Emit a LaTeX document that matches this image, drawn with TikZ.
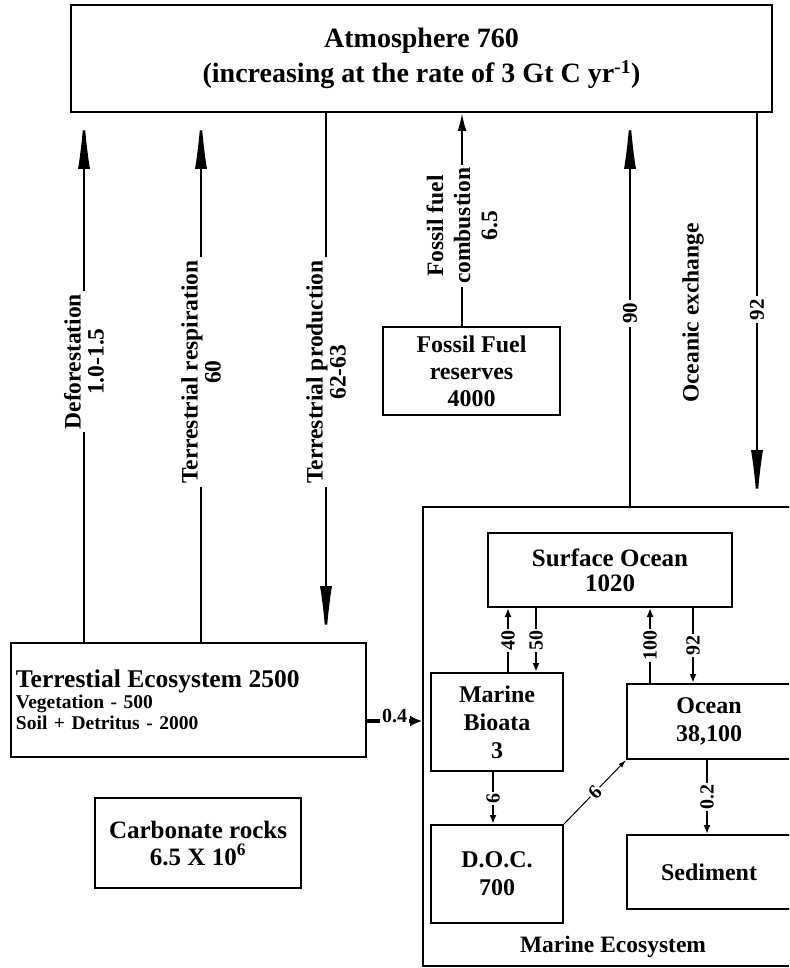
\documentclass[tikz,border=0pt]{standalone}
\usepackage{fontspec}
\setmainfont{Liberation Serif}
\usepackage{tikz}
\usetikzlibrary{arrows.meta}
\usetikzlibrary{positioning}

\newcommand{\titlefont}{\fontsize{28}{35}\selectfont\bfseries}
\newcommand{\boxfont}{\fontsize{24}{27}\selectfont\bfseries}
\newcommand{\flowfont}{\fontsize{23.5}{23}\selectfont\bfseries}
\newcommand{\minfont}{\fontsize{20}{20}\selectfont\bfseries}

\tikzset{
	pool/.style={draw, line width=2pt, align=center, inner sep=0pt, font=\boxfont},
	flowlab/.style={rotate=90, fill=white, align=center, inner sep=3pt, font=\flowfont},
	minlab/.style={rotate=90, fill=white, inner sep=1.5pt, font=\minfont},
	bigflow/.style={line width=2.5pt, -{Latex[length=56pt,width=12pt]}},
	fossflow/.style={line width=2pt, -{Latex[length=18pt,width=9pt]}},
	minflow/.style={line width=2pt, -{Latex[length=9pt,width=7pt]}},
	thinflow/.style={line width=1pt, -{Latex[length=8pt,width=5pt]}},
	latflow/.style={line width=3.5pt, -{Latex[length=12pt,width=11pt]}},
}

\begin{document}
\begin{tikzpicture}[x=1pt,y=-1pt]
	\useasboundingbox (0,0) rectangle (789,968);
	\clip (0,0) rectangle (789,968);
	% pools
	\node[pool, minimum width=701pt, minimum height=107pt, font=\titlefont] (atm) at (421.5,58.5) {Atmosphere 760\\(increasing at the rate of 3 Gt C yr\textsuperscript{-1})};
	\node[pool, minimum width=177pt, minimum height=88pt] (ff) at (471.5,371) {Fossil Fuel\\reserves\\4000};
	\node[pool, minimum height=114pt, text width=345pt, inner xsep=5pt, align=left, font=\fontsize{19.5}{21}\selectfont\bfseries] (terr) at (188.5,700) {{\fontsize{25.5}{27}\selectfont Terrestial Ecosystem 2500}\\Vegetation - 500\\Soil + Detritus - 2000};
	\node[pool, minimum width=206pt, minimum height=90pt, font=\fontsize{25}{27}\selectfont\bfseries] (carb) at (198,843) {Carbonate rocks\\6.5 X 10\textsuperscript{6}};
	\node[pool, minimum width=377pt, minimum height=459pt] (marine) at (611.5,736.5) {};
	\node[font=\fontsize{23.5}{24}\selectfont\bfseries] (mlab) at (613,947) {Marine Ecosystem};
	\node[pool, minimum width=244pt, minimum height=74pt, font=\fontsize{25}{25}\selectfont\bfseries] (surf) at (610,570) {Surface Ocean\\1020};
	\node[pool, minimum width=132pt, minimum height=98pt, font=\fontsize{24}{28}\selectfont\bfseries] (biota) at (497,722) {Marine\\Bioata\\3};
	\node[pool, minimum width=132pt, minimum height=98pt, font=\fontsize{24}{28}\selectfont\bfseries] (doc) at (497,874) {D.O.C.\\700};
	\node[pool, minimum width=164pt, minimum height=75pt, font=\fontsize{24}{28}\selectfont\bfseries] (ocean) at (709,721.5) {Ocean\\38,100};
	\node[pool, minimum width=164pt, minimum height=74pt] (sed) at (709,872) {Sediment};
	% where the long fluxes run
	\coordinate (defo) at (84,0);
	\coordinate (resp) at (201,0);
	\coordinate (prod) at (326,0);
	\coordinate (foss) at (462,0);
	\coordinate (oup) at (630,0);
	\coordinate (odown) at (757,0);
	\draw[bigflow] (terr.north -| defo) -- (atm.south -| defo) node[flowlab, pos=.53] {Deforestation\\1.0-1.5};
	\draw[bigflow] (terr.north -| resp) -- (atm.south -| resp) node[flowlab, pos=.51] {Terrestrial respiration\\60};
	\draw[bigflow] (atm.south -| prod) -- (terr.north -| prod) node[flowlab, pos=.49] {Terrestrial production\\62-63};
	\draw[fossflow] (ff.north -| foss) -- (atm.south -| foss) node[flowlab, pos=.47, font=\fontsize{23.5}{27}\selectfont\bfseries] {Fossil fuel\\combustion\\6.5};
	\draw[bigflow] (marine.north -| oup) -- (atm.south -| oup) node[flowlab, pos=.49, font=\fontsize{21}{21}\selectfont\bfseries] {90};
	\draw[bigflow] (atm.south -| odown) -- (marine.north -| odown) node[flowlab, pos=.5, font=\fontsize{21}{21}\selectfont\bfseries] {92};
	\node[flowlab, fill=none] (oex) at (693,313) {Oceanic exchange};
	% land to sea
	\coordinate (lat) at (0,721);
	\draw[latflow] (terr.east |- lat) -- (marine.west |- lat) node[midway, fill=white, inner sep=2pt, yshift=5pt, font=\minfont] {0.4};
	% inside the ocean
	\coordinate (m40) at (508,0);
	\coordinate (m50) at (536,0);
	\coordinate (m100) at (650,0);
	\coordinate (m92) at (693,0);
	\coordinate (m6) at (493,0);
	\coordinate (m02) at (707,0);
	\draw[minflow] (biota.north -| m40) -- (surf.south -| m40) node[minlab, midway] {40};
	\draw[minflow] (surf.south -| m50) -- (biota.north -| m50) node[minlab, midway] {50};
	\draw[minflow] (ocean.north -| m100) -- (surf.south -| m100) node[minlab, midway] {100};
	\draw[minflow] (surf.south -| m92) -- (ocean.north -| m92) node[minlab, midway] {92};
	\draw[minflow] (biota.south -| m6) -- (doc.north -| m6) node[minlab, midway] {6};
	\draw[minflow] (ocean.south -| m02) -- (sed.north -| m02) node[minlab, midway] {0.2};
	\draw[thinflow] (doc.north east) -- (ocean.south west) node[midway, sloped, fill=white, inner sep=1.5pt, font=\minfont] {6};
\end{tikzpicture}
\end{document}
